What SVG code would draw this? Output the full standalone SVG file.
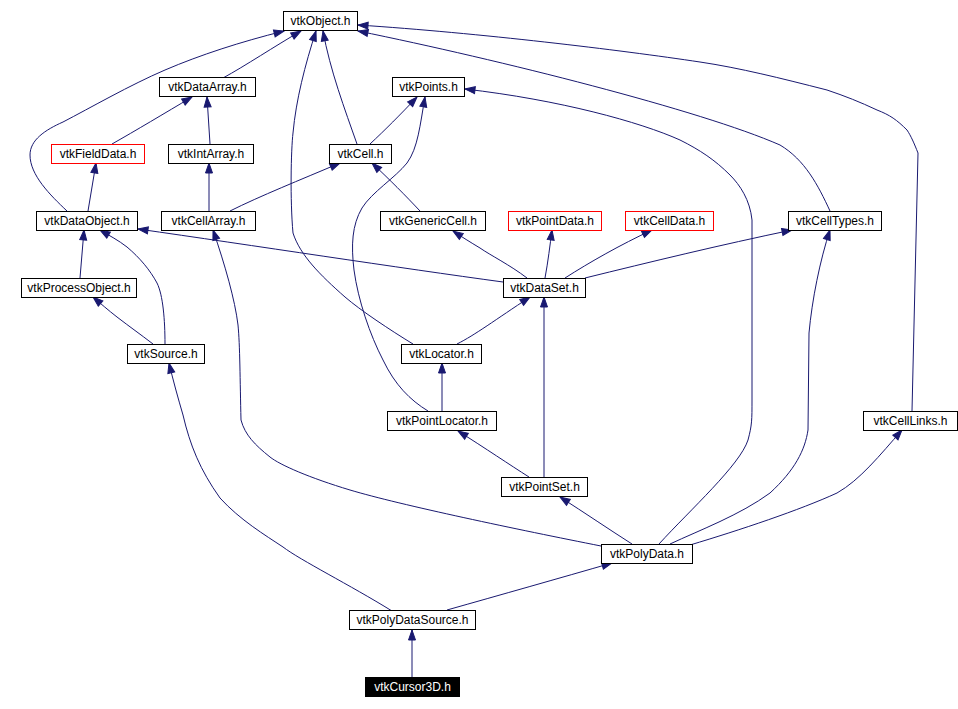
<svg xmlns="http://www.w3.org/2000/svg" width="958" height="709" viewBox="0 0 958 709">
<style>
.n rect{fill:#fff;stroke:#000;stroke-width:1}
.n.r rect{stroke:#f00}
.n text{font-family:"Liberation Sans",Arial,sans-serif;font-size:12px;text-anchor:middle;fill:#000}
.n.s rect{fill:#000;stroke:#000}
.n.s text{fill:#fff}
#edges path{fill:none;stroke:#191970;stroke-width:1;marker-end:url(#a)}
</style>
<defs>
<marker id="a" markerUnits="userSpaceOnUse" markerWidth="11" markerHeight="8" refX="10" refY="4" orient="auto" overflow="visible">
<path d="M0,0.5 L10,4 L0,7.5 z" fill="#191970" stroke="#191970" stroke-width="1"/>
</marker>
</defs>
<rect width="958" height="709" fill="#fff"/>
<g id="edges">
<path d="M223,78 C245,66 275,46 301,31"/>
<path d="M67,211 C50,195 30,175 30,155 C30,140 45,130 63,122 C90,108 130,85 165,70 C200,55 240,42 284,31"/>
<path d="M357,144 C345,110 330,70 323,31"/>
<path d="M413,344 C390,330 360,310 345,297 C320,275 300,255 293,233 C290,200 291,150 293,133 C296,100 305,65 316,31"/>
<path d="M830,211 C818,185 805,160 780,145 C700,110 500,60 358,31"/>
<path d="M912,411 L918,153 C914,143 911,136 907,130 C897,120 890,115 877,110 C860,102 845,96 827,90 C780,78 740,68 700,62 C620,50 480,33 358,25"/>
<path d="M659,544 C690,510 740,465 748,440 C752,425 752,420 752,400 L752,220 C750,200 740,185 730,175 C715,160 700,150 680,140 C640,122 560,100 465,89"/>
<path d="M370,144 C385,130 400,115 417,97"/>
<path d="M428,411 C410,400 395,385 383,360 C370,335 358,300 354,270 C351,245 352,225 362,208 C372,192 395,178 407,163 C418,148 420,125 425,97"/>
<path d="M112,144 C135,131 165,113 192,97"/>
<path d="M210,144 L207,97"/>
<path d="M88,211 L96,163"/>
<path d="M209,211 L209,163"/>
<path d="M230,211 C260,196 300,180 340,163"/>
<path d="M420,211 C405,195 390,180 372,163"/>
<path d="M80,278 L84,230"/>
<path d="M165,344 C165,320 163,295 157,283 C150,270 140,258 127,247 C118,240 110,236 100,230"/>
<path d="M503,282 C400,268 250,245 138,229"/>
<path d="M153,344 C140,334 130,327 117,317 C108,310 100,303 93,297"/>
<path d="M601,546 C520,530 400,505 350,490 C310,478 280,465 270,457 C255,445 245,435 241,420 C240,380 240,345 238,325 C235,300 225,265 213,230"/>
<path d="M527,278 C510,265 490,255 480,248 C470,242 462,237 453,231"/>
<path d="M545,278 C548,262 550,245 552,230"/>
<path d="M565,278 C590,262 620,245 652,230"/>
<path d="M585,278 C650,262 720,245 792,230"/>
<path d="M457,344 C475,335 495,320 530,297"/>
<path d="M544,477 L544,297"/>
<path d="M442,411 L442,363"/>
<path d="M529,477 C510,465 485,448 458,431"/>
<path d="M632,544 C610,530 585,513 560,497"/>
<path d="M670,544 C700,530 740,515 770,493 C795,470 805,450 808,430 L809,333 C812,300 820,260 830,230"/>
<path d="M690,545 C740,530 800,510 837,493 C860,480 880,455 902,430"/>
<path d="M447,610 C500,595 560,578 612,563"/>
<path d="M392,611 C350,585 300,560 283,547 C265,535 240,520 220,498 C200,470 190,445 183,415 C178,398 173,380 169,363"/>
<path d="M412,677 L412,630"/>
</g>
<g id="vtkObject" class="n"><rect x="283.5" y="11.5" width="74" height="19"/><text x="320.5" y="25">vtkObject.h</text></g>
<g id="vtkDataArray" class="n"><rect x="159.5" y="77.5" width="96" height="19"/><text x="207.5" y="91">vtkDataArray.h</text></g>
<g id="vtkPoints" class="n"><rect x="392.5" y="77.5" width="72" height="19"/><text x="428.5" y="91">vtkPoints.h</text></g>
<g id="vtkFieldData" class="n r"><rect x="51.5" y="144.5" width="93" height="19"/><text x="98" y="158">vtkFieldData.h</text></g>
<g id="vtkIntArray" class="n"><rect x="168.5" y="144.5" width="85" height="19"/><text x="211" y="158">vtkIntArray.h</text></g>
<g id="vtkCell" class="n"><rect x="329.5" y="144.5" width="62" height="19"/><text x="360.5" y="158">vtkCell.h</text></g>
<g id="vtkDataObject" class="n"><rect x="36.5" y="211.5" width="101" height="19"/><text x="87" y="225">vtkDataObject.h</text></g>
<g id="vtkCellArray" class="n"><rect x="161.5" y="211.5" width="94" height="19"/><text x="208.5" y="225">vtkCellArray.h</text></g>
<g id="vtkGenericCell" class="n"><rect x="380.5" y="211.5" width="105" height="19"/><text x="433" y="225">vtkGenericCell.h</text></g>
<g id="vtkPointData" class="n r"><rect x="508.5" y="211.5" width="93" height="19"/><text x="555" y="225">vtkPointData.h</text></g>
<g id="vtkCellData" class="n r"><rect x="625.5" y="211.5" width="88" height="19"/><text x="669.5" y="225">vtkCellData.h</text></g>
<g id="vtkCellTypes" class="n"><rect x="788.5" y="211.5" width="93" height="19"/><text x="835" y="225">vtkCellTypes.h</text></g>
<g id="vtkProcessObject" class="n"><rect x="21.5" y="278.5" width="115" height="19"/><text x="79" y="292">vtkProcessObject.h</text></g>
<g id="vtkDataSet" class="n"><rect x="503.5" y="278.5" width="82" height="19"/><text x="544.5" y="292">vtkDataSet.h</text></g>
<g id="vtkSource" class="n"><rect x="127.5" y="344.5" width="77" height="19"/><text x="166" y="358">vtkSource.h</text></g>
<g id="vtkLocator" class="n"><rect x="401.5" y="344.5" width="80" height="19"/><text x="441.5" y="358">vtkLocator.h</text></g>
<g id="vtkPointLocator" class="n"><rect x="387.5" y="411.5" width="109" height="19"/><text x="442" y="425">vtkPointLocator.h</text></g>
<g id="vtkCellLinks" class="n"><rect x="863.5" y="411.5" width="94" height="19"/><text x="910.5" y="425">vtkCellLinks.h</text></g>
<g id="vtkPointSet" class="n"><rect x="501.5" y="477.5" width="86" height="19"/><text x="544.5" y="491">vtkPointSet.h</text></g>
<g id="vtkPolyData" class="n"><rect x="601.5" y="544.5" width="91" height="19"/><text x="647" y="558">vtkPolyData.h</text></g>
<g id="vtkPolyDataSource" class="n"><rect x="349.5" y="610.5" width="126" height="19"/><text x="412.5" y="624">vtkPolyDataSource.h</text></g>
<g id="vtkCursor3D" class="n s"><rect x="365.5" y="677.5" width="94" height="19"/><text x="412.5" y="691">vtkCursor3D.h</text></g>
</svg>
